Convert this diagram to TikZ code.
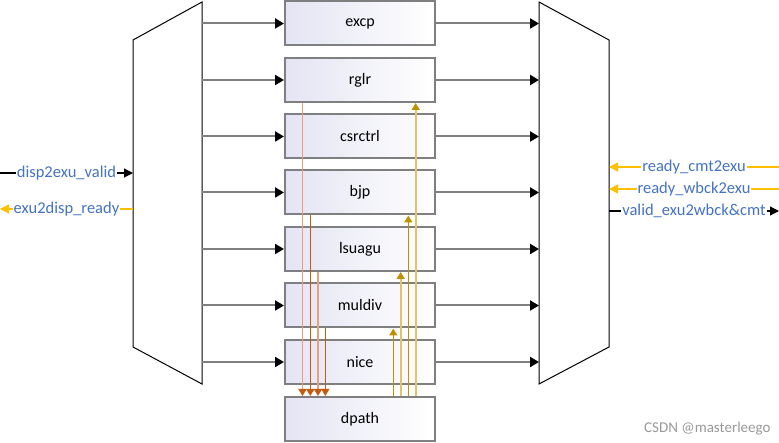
\documentclass[tikz,border=0pt]{standalone}
\usepackage{fontspec}
\setmainfont{Carlito}
\usetikzlibrary{arrows.meta}
\definecolor{boxgray}{HTML}{7F7F7F}
\definecolor{boxtint}{HTML}{E4E4F4}
\definecolor{sigblue}{HTML}{4472C4}
\definecolor{darkor}{HTML}{C55A11}
\definecolor{lightor}{HTML}{E9A07A}
\definecolor{darkgold}{HTML}{BF9000}
\definecolor{lightgold}{HTML}{E4C26A}
\definecolor{gold}{HTML}{FFC000}
\tikzset{
  unit/.style={draw=boxgray, line width=2pt, left color=boxtint, right color=white,
    minimum width=150pt, minimum height=44pt, inner sep=0pt, font=\fontsize{16}{18}\selectfont},
  harrow/.style={draw=boxgray, line width=2pt, -{Triangle[length=9pt,width=10pt,fill=black,black]}},
  mux/.style={draw=black, line width=1pt},
  downarr/.style={line width=1.6pt, -{Triangle[length=7pt,width=8pt,fill=darkor,darkor]}},
  uparr/.style={line width=1.6pt, -{Triangle[length=7pt,width=8pt,fill=darkgold,darkgold]}},
  siglabel/.style={fill=white, inner sep=1pt, text=sigblue, font=\fontsize{16.5}{18}\selectfont},
  blackarr/.style={draw=black, line width=1.2pt, -{Triangle[length=9pt,width=9pt]}},
  goldarr/.style={draw=gold, line width=1.2pt, -{Triangle[length=9pt,width=9pt,fill=gold]}},
}
\begin{document}
\begin{tikzpicture}[x=1pt,y=-1pt]
\useasboundingbox (0,0) rectangle (779,443);
% muxes
\draw[mux] (133,40) -- (202,2) -- (202,384) -- (133,347) -- cycle;
\draw[mux] (539,2) -- (609,40) -- (609,347) -- (539,384) -- cycle;
\coordinate (lmuxL) at (133,0);
\coordinate (lmuxR) at (202,0);
\coordinate (rmuxL) at (539,0);
\coordinate (rmuxR) at (609,0);
% units
\node[unit] (excp)    at (360,23.5)  {excp};
\node[unit] (rglr)    at (360,80)    {rglr};
\node[unit] (csrctrl) at (360,136.5) {csrctrl};
\node[unit] (bjp)     at (360,192.5) {bjp};
\node[unit] (lsuagu)  at (360,249)   {lsuagu};
\node[unit] (muldiv)  at (360,305.5) {muldiv};
\node[unit] (nice)    at (360,362)   {nice};
\node[unit] (dpath)   at (360,419)   {dpath};
% horizontal arrows
\foreach \u in {excp,rglr,csrctrl,bjp,lsuagu,muldiv,nice}{
  \draw[harrow] (\u.west -| lmuxR) -- (\u.west);
  \draw[harrow] (\u.east) -- (\u.east -| rmuxL);
}
% vertical connections
\coordinate (d1) at (302.5,0);
\coordinate (d2) at (310.3,0);
\coordinate (d3) at (318,0);
\coordinate (d4) at (325.3,0);
\coordinate (u1) at (393.3,0);
\coordinate (u2) at (400.7,0);
\coordinate (u3) at (408.3,0);
\coordinate (u4) at (415.7,0);
\draw[downarr, lightor] (rglr.south -| d1) -- (dpath.north -| d1);
\draw[downarr, darkor] (bjp.south -| d2) -- (dpath.north -| d2);
\draw[downarr, lightor] (lsuagu.south -| d3) -- (dpath.north -| d3);
\draw[downarr, darkor, line width=1.2pt] (muldiv.south -| d4) -- (dpath.north -| d4);
\draw[uparr, darkgold] (dpath.north -| u1) -- (muldiv.south -| u1);
\draw[uparr, lightgold] (dpath.north -| u2) -- (lsuagu.south -| u2);
\draw[uparr, darkgold] (dpath.north -| u3) -- (bjp.south -| u3);
\draw[uparr, lightgold] (dpath.north -| u4) -- (rglr.south -| u4);
% left signals
\coordinate (inL1) at (0,173);
\coordinate (inL2) at (0,209);
\draw[blackarr] (inL1) -- (inL1 -| lmuxL) node[siglabel, midway] (l1) {disp2exu\_valid};
\draw[goldarr] (inL2 -| lmuxL) -- (inL2) node[siglabel, midway] (l2) {exu2disp\_ready};
% right signals
\coordinate (outR1) at (779,167);
\coordinate (outR2) at (779,189);
\coordinate (outR3) at (779,211);
\draw[goldarr] (outR1) -- (outR1 -| rmuxR) node[siglabel, midway] (r1) {ready\_cmt2exu};
\draw[goldarr] (outR2) -- (outR2 -| rmuxR) node[siglabel, midway] (r2) {ready\_wbck2exu};
\draw[blackarr] (outR3 -| rmuxR) -- (outR3) node[siglabel, midway] (r3) {valid\_exu2wbck\&cmt};
% watermark
\node[text=black!40, font=\fontsize{15}{17}\selectfont, anchor=east] (wm) at (774,429) {CSDN @masterleego};
\end{tikzpicture}
\end{document}
